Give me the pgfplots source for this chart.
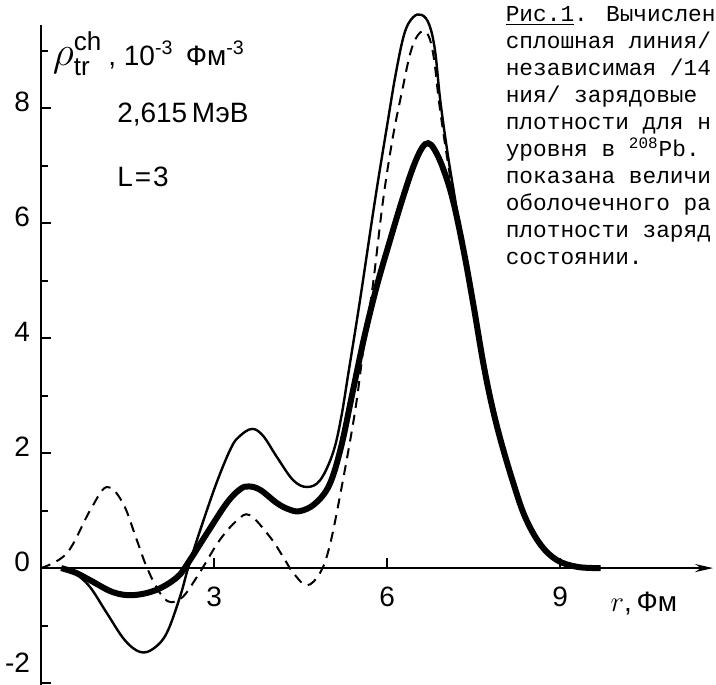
\documentclass[border=0pt]{standalone}
\usepackage{pgfplots}
\pgfplotsset{compat=1.18}
\usepackage{fontspec}
\setmainfont{Liberation Sans}
\newfontfamily\mono{Liberation Mono}
\usetikzlibrary{arrows.meta}

\begin{document}
\begin{tikzpicture}
\begin{axis}[
  x=28.85pt, y=28.75pt,
  xmin=0, xmax=11.65, ymin=-2.03, ymax=9.45,
  axis lines=middle,
  axis line style={line width=1.2pt},
  x axis line style={-{Stealth[length=9pt,width=4pt]}},
  y axis line style={-},
  xtick={3,6,9}, ytick={0,2,...,8}, minor ytick={-1,1,...,9},
  extra y ticks={-2},
  extra y tick style={yticklabel style={yshift=7pt}},
  hide obscured x ticks=false, hide obscured y ticks=false,
  tick align=inside,
  major tick length=5pt, minor tick length=3.5pt,
  tick style={black, line width=1pt},
  ticklabel style={font=\fontsize{14}{16}\selectfont},
  /pgf/number format/assume math mode=true,
  xticklabel style={yshift=-6pt},
  yticklabel style={xshift=-2pt, yshift=3pt},
  clip=false,
]
% thin solid
\addplot[black, line width=1.2pt, smooth, tension=0.6] coordinates {
  (0.38,0) (0.6,-0.1) (0.85,-0.33) (1.14,-0.78) (1.45,-1.25) (1.72,-1.46)
  (1.95,-1.4) (2.18,-1.13) (2.41,-0.5) (2.55,0) (2.76,0.66) (3.05,1.5)
  (3.3,2.1) (3.45,2.3) (3.66,2.42) (3.85,2.3) (4.09,1.93) (4.37,1.53)
  (4.61,1.41) (4.84,1.53) (5.06,2.0) (5.2,2.6) (5.33,3.4) (5.53,4.66)
  (5.79,6.4) (6.0,7.7) (6.15,8.6) (6.3,9.3) (6.45,9.58) (6.6,9.62)
  (6.73,9.45) (6.83,9.0) (6.92,8.14) (7.05,7.2) (7.18,6.4) (7.32,5.5)
  (7.5,4.55) (7.66,3.6) (7.8,2.9) (7.97,2.25) (8.18,1.5) (8.39,0.9)
  (8.65,0.42) (8.94,0.14) (9.3,0.02) (9.7,0)};
% thick
\addplot[black, line width=3pt, smooth, tension=0.6] coordinates {
  (0.35,0) (0.6,-0.08) (0.85,-0.21) (1.25,-0.42) (1.6,-0.47) (2.0,-0.38)
  (2.36,-0.16) (2.55,0.09) (2.88,0.61) (3.22,1.13) (3.45,1.37) (3.6,1.42)
  (3.8,1.36) (4.09,1.13) (4.3,1.02) (4.49,0.99) (4.75,1.12) (5.0,1.45)
  (5.2,2.1) (5.4,3.05) (5.6,4.0) (5.82,4.9) (6.05,5.7) (6.26,6.4)
  (6.45,6.97) (6.6,7.3) (6.71,7.39) (6.82,7.28) (6.97,6.95) (7.14,6.4)
  (7.33,5.5) (7.5,4.55) (7.66,3.6) (7.8,2.9) (7.96,2.25) (8.18,1.5)
  (8.39,0.89) (8.65,0.42) (8.94,0.14) (9.3,0.02) (9.7,0)};
% dashed
\addplot[black, line width=1pt, dash pattern=on 5pt off 3.5pt, smooth, tension=0.6] coordinates {
  (0,0) (0.45,0.26) (0.85,1.0) (1.14,1.41) (1.42,1.13) (1.66,0.49) (1.84,0)
  (2.06,-0.43) (2.24,-0.59) (2.46,-0.5) (2.7,-0.16) (2.8,0) (3.1,0.49)
  (3.4,0.83) (3.62,0.92) (3.97,0.54) (4.2,0.19) (4.37,-0.08) (4.61,-0.3)
  (4.84,-0.08) (5.0,0.37) (5.18,1.24) (5.44,2.7) (5.6,3.9) (5.75,4.9)
  (5.93,6.4) (6.1,7.5) (6.26,8.3) (6.4,8.95) (6.52,9.25) (6.64,9.34)
  (6.74,9.2) (6.82,8.8) (6.9,8.1) (7.03,7.2) (7.16,6.4) (7.32,5.5)
  (7.5,4.55) (7.66,3.6) (7.8,2.9) (7.96,2.25) (8.18,1.5) (8.39,0.9)
  (8.65,0.42) (8.94,0.14) (9.3,0.02) (9.7,0)};

\node[anchor=west, font=\fontsize{14}{16}\selectfont, inner sep=0pt] at (axis cs:0.2,8.95)
  {{\fontsize{22}{22}\selectfont$\rho^{\mbox{\fontsize{13}{13}\selectfont ch}}_{\mbox{\fontsize{13}{13}\selectfont tr}}$}\kern3pt,
   10\textsuperscript{-3}\, Фм\textsuperscript{-3}};
\node[anchor=west, font=\fontsize{14}{16}\selectfont] at (axis cs:1.2,7.88) {2,615\,МэВ};
\node[anchor=west, font=\fontsize{14}{16}\selectfont] at (axis cs:1.2,6.8) {L\kern1pt=\kern1pt3};
\node[font=\fontsize{14}{16}\selectfont] at (axis cs:10.45,-0.62) {$r$,\,Фм};

\node[anchor=north west, inner sep=0pt, align=left,
      font=\mono\fontsize{11.4}{13.5}\selectfont] at (axis cs:8.05,9.78)
  {\underline{Рис.1}. Вычислен\\
   сплошная линия/\\
   независимая /14\\
   ния/ зарядовые\\
   плотности для н\\
   уровня в  \textsuperscript{208}Pb.\\
   показана величи\\
   оболочечного ра\\
   плотности заряд\\
   состоянии.};

\coordinate (bl) at (axis cs:-0.71,-2.03);
\coordinate (tr) at (axis cs:11.70,9.88);
\end{axis}
\pgfresetboundingbox
\useasboundingbox (bl) rectangle (tr);
\end{tikzpicture}
\end{document}
